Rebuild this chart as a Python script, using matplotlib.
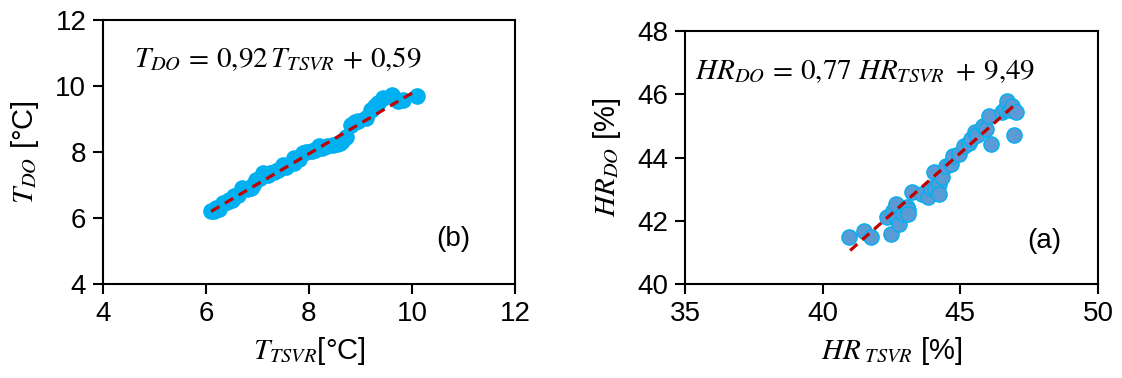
import numpy as np
import matplotlib
matplotlib.use("Agg")
import matplotlib.pyplot as plt

plt.rcParams.update({
    "font.family": "Liberation Sans",
    "font.size": 20,
    "mathtext.fontset": "stix",
})

# panel (b): temperature
tTsvr = [6.10, 6.15, 6.20, 6.25, 6.33, 6.40, 6.44, 6.50, 6.55, 6.62, 6.69, 6.80, 6.87, 6.92,
         6.97, 7.05, 7.11, 7.20, 7.25, 7.32, 7.39, 7.49, 7.55, 7.70, 7.70, 7.80, 7.88, 7.95,
         8.05, 8.12, 8.20, 8.26, 8.35, 8.47, 8.55, 8.61, 8.65, 8.71, 8.82, 8.90, 8.96, 9.10,
         9.20, 9.28, 9.34, 9.44, 9.62, 9.72, 9.82, 10.10]
tDo = [6.20, 6.22, 6.30, 6.28, 6.45, 6.48, 6.56, 6.55, 6.66, 6.70, 6.91, 6.88, 6.91, 7.00,
       7.16, 7.20, 7.36, 7.30, 7.36, 7.40, 7.46, 7.62, 7.55, 7.67, 7.82, 7.80, 7.97, 8.00,
       8.02, 8.05, 8.17, 8.12, 8.17, 8.20, 8.25, 8.27, 8.35, 8.47, 8.83, 8.90, 8.93, 9.03,
       9.28, 9.40, 9.48, 9.64, 9.74, 9.54, 9.59, 9.69]
tFit = [0.92, 0.59]
tFitRange = [6.1, 10.0]

# panel (a): relative humidity
hrTsvr = [40.97, 41.49, 41.75, 42.34, 42.47, 42.55, 42.66, 42.72, 42.79, 42.92, 43.05, 43.12,
          43.12, 43.25, 43.60, 43.83, 43.95, 44.03, 44.10, 44.22, 44.22, 44.35, 44.48, 44.68,
          44.74, 44.95, 45.13, 45.30, 45.39, 45.52, 45.60, 45.84, 45.95, 46.04, 46.10, 46.50,
          46.62, 46.69, 46.80, 46.88, 46.95, 47.01]
hrDo = [41.48, 41.69, 41.48, 42.12, 41.59, 42.30, 42.54, 42.05, 41.90, 42.22, 42.45, 42.33,
        42.22, 42.91, 42.86, 42.75, 43.05, 43.54, 43.00, 43.17, 42.86, 43.40, 43.74, 43.80,
        44.06, 44.10, 44.38, 44.45, 44.59, 44.80, 44.70, 45.01, 44.90, 45.33, 44.42, 45.45,
        45.54, 45.80, 45.50, 45.64, 44.71, 45.43]
hrFit = [0.77, 9.49]
hrFitRange = [41.0, 47.0]

fig = plt.figure(figsize=(11.22, 3.78), dpi=100)
ax1 = fig.add_axes([0.0918, 0.2487, 0.3672, 0.698])
ax2 = fig.add_axes([0.6105, 0.2487, 0.368, 0.669])

def styleAxes(ax):
    for s in ax.spines.values():
        s.set_linewidth(1.5)
    ax.tick_params(direction="out", length=7, width=1.5, top=False, right=False, pad=5)

# left panel
ax1.scatter(tTsvr, tDo, s=120, color="#00B0F0", edgecolors="#00B0F0", linewidths=1, zorder=2)
xs = np.array(tFitRange)
ax1.plot(xs, tFit[0]*xs + tFit[1], color="#C00000", linestyle=(0, (3, 2)), linewidth=2.3, zorder=3)
ax1.set_xlim(4, 12)
ax1.set_ylim(4, 12)
ax1.set_xticks([4, 6, 8, 10, 12])
ax1.set_yticks([4, 6, 8, 10, 12])
ax1.set_xlabel(r"$T_{TSVR}$[°C]", labelpad=6, fontsize=21)
ax1.set_ylabel(r"$T_{DO}$ [°C]", labelpad=10, fontsize=21)
ax1.text(0.075, 0.855, r"$T_{DO}\,=\,0{,}92\,T_{TSVR}\,+\,0{,}59$", transform=ax1.transAxes,
         fontsize=21, va="center", ha="left")
ax1.text(0.85, 0.17, "(b)", transform=ax1.transAxes, fontsize=20, ha="center", va="center")
styleAxes(ax1)

# right panel
ax2.scatter(hrTsvr, hrDo, s=120, color="#5B9BD5", edgecolors="#00B0F0", linewidths=1, zorder=2)
xs = np.array(hrFitRange)
ax2.plot(xs, hrFit[0]*xs + hrFit[1], color="#C00000", linestyle=(0, (3, 2)), linewidth=2.3, zorder=3)
ax2.set_xlim(35, 50)
ax2.set_ylim(40, 48)
ax2.set_xticks([35, 40, 45, 50])
ax2.set_yticks([40, 42, 44, 46, 48])
ax2.set_xlabel(r"$HR_{\ TSVR}$ [%]", labelpad=6, fontsize=21)
ax2.set_ylabel(r"$HR_{DO}$ [%]", labelpad=10, fontsize=21)
ax2.text(0.025, 0.845, r"$HR_{DO}\,=\,0{,}77\ HR_{TSVR}\ +\,9{,}49$", transform=ax2.transAxes,
         fontsize=21, va="center", ha="left")
ax2.text(0.87, 0.17, "(a)", transform=ax2.transAxes, fontsize=20, ha="center", va="center")
styleAxes(ax2)

fig.savefig("out.png", dpi=100)
